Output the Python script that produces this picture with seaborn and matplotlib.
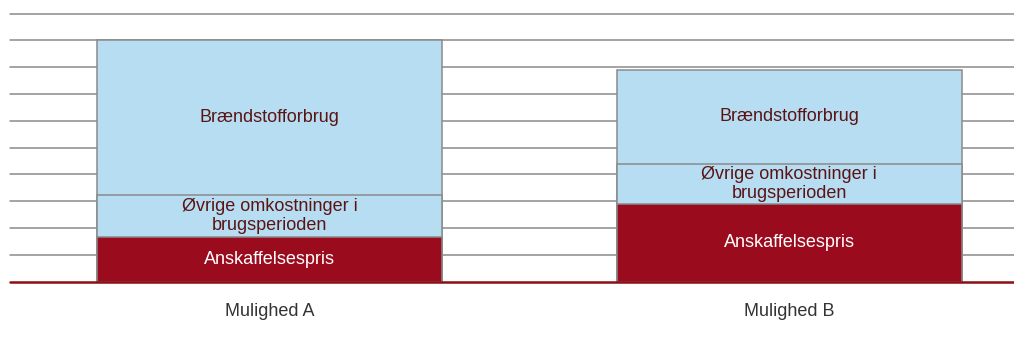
import pandas as pd
import matplotlib
matplotlib.use("Agg")
import matplotlib.pyplot as plt
import seaborn as sns

options = ["Mulighed A", "Mulighed B"]
segments = ["Anskaffelsespris", "Øvrige omkostninger i\nbrugsperioden", "Brændstofforbrug"]
anskaffelse = [1.67, 2.89]
oevrige = [1.55, 1.51]
braendstof = [5.78, 3.49]

sns.set_style("white")
plt.rcParams["font.family"] = ["Liberation Sans", "DejaVu Sans"]

RED = "#9b0b1e"
BLUE = "#b7ddf2"
EDGE = "#8a8a8a"

df = pd.DataFrame({"option": options, "a": anskaffelse, "o": oevrige, "b": braendstof})
df["cum_a"] = df["a"]
df["cum_o"] = df["a"] + df["o"]
df["cum_b"] = df["cum_o"] + df["b"]

fig = plt.figure(figsize=(10.14, 3.42), dpi=100)
ax = fig.add_axes([10 / 1014, 1 - 281.5 / 342, 1 - 10 / 1014, 268 / 342])

# stacked bars by overlaying cumulative totals, tallest first
for col, color in [("cum_b", BLUE), ("cum_o", BLUE), ("cum_a", RED)]:
    sns.barplot(data=df, x="option", y=col, color=color, saturation=1, width=0.664,
                edgecolor=EDGE, linewidth=1.1, ax=ax, zorder=2)

ax.set_ylim(0, 10)
ax.set_xlim(-0.5, 1.433)
ax.set_yticks(range(1, 11))
ax.yaxis.grid(True, color=EDGE, linewidth=1.1, zorder=0)
for gl in ax.get_ygridlines():
    gl.set_clip_on(False)
ax.set_axisbelow(True)
ax.tick_params(axis="y", left=False, labelleft=False)
ax.tick_params(axis="x", bottom=False, labelsize=13, labelcolor="#333333", pad=12)
ax.set_xlabel("")
ax.set_ylabel("")
sns.despine(ax=ax, left=True, top=True, right=True, bottom=True)
ax.axhline(0, color="#8b0f14", linewidth=1.8, zorder=3, clip_on=False)

for i in range(len(options)):
    bottoms = [0, df["cum_a"][i], df["cum_o"][i]]
    heights = [df["a"][i], df["o"][i], df["b"][i]]
    colors = ["white", "#5a1414", "#5a1414"]
    for lab, b, h, c in zip(segments, bottoms, heights, colors):
        ax.text(i, b + h / 2, lab, ha="center", va="center", fontsize=13,
                color=c, linespacing=1.15, zorder=4)

fig.savefig("out.png", dpi=100)
